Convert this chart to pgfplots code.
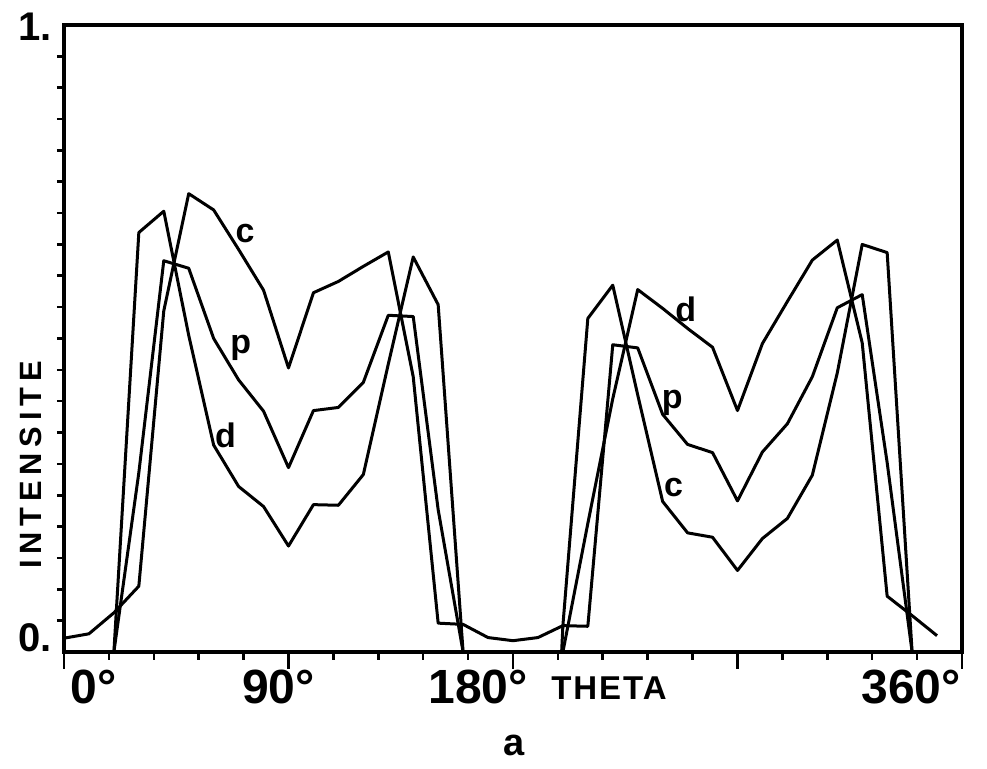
\documentclass[border=0pt]{standalone}
\usepackage{pgfplots}
\pgfplotsset{compat=1.18}
\usepackage{fontspec}
\setmainfont{Liberation Sans}

\begin{document}
\begin{tikzpicture}
  % page frame: reference is 987 x 769 px, 1 px = 0.5pt, axis origin at (64,652) px
  \path[use as bounding box] (-32pt,-58.5pt) rectangle (461.5pt,326pt);
  \begin{axis}[
      scale only axis,
      width=449pt, height=313.5pt,
      xmin=0, xmax=360, ymin=0, ymax=1,
      axis line style={line width=1.6pt},
      xtick={0,90,180,270,360},
      minor xtick={18,36,54,72,108,126,144,162,198,216,234,252,288,306,324,342},
      ytick=\empty,
      extra y ticks={0.05,0.1,0.15,0.2,0.25,0.3,0.35,0.4,0.45,0.5,0.55,0.6,0.65,0.7,0.75,0.8,0.85,0.9,0.95},
      extra y tick labels={},
      extra y tick style={major tick length=3.5pt, tick style={black, line width=1.3pt}},
      xticklabels={},
      tick align=outside,
      xtick pos=bottom, ytick pos=left,
      major tick length=8.5pt, minor tick length=4pt,
      tick style={black, line width=1.3pt},
      clip=false,
      curve/.style={black, line width=1.5pt, line join=round, mark=none},
    ]

    % c
    \addplot[curve] coordinates {
      (0,0.022) (10,0.029) (20,0.0625) (30,0.105) (40,0.544) (50,0.731)
      (60,0.705) (70,0.642) (80,0.577) (90,0.453) (100,0.573) (110,0.591)
      (120,0.615) (130,0.638) (140,0.439) (150,0.046) (160,0.044) (170,0.023)
      (180,0.018) (190,0.023) (200,0.042) (210,0.532) (220,0.585) (230,0.41)
      (240,0.240) (250,0.190) (260,0.183) (270,0.130) (280,0.181) (290,0.213)
      (300,0.282) (310,0.445) (320,0.650) (330,0.637) (340,0)
    };

    % p
    \addplot[curve] coordinates {
      (0,0) (10,0) (20,0) (30,0.286) (40,0.624) (50,0.612)
      (60,0.50) (70,0.434) (80,0.384) (90,0.294) (100,0.385) (110,0.390)
      (120,0.430) (130,0.537) (140,0.535) (150,0.227) (160,0) (170,0)
      (180,0) (190,0) (199.5,0) (200,0.042) (210,0.041) (220,0.490) (230,0.485)
      (240,0.379) (250,0.331) (260,0.318) (270,0.241) (280,0.319) (290,0.364)
      (300,0.439) (310,0.549) (320,0.570) (330,0.302) (340,0)
    };

    % d
    \addplot[curve] coordinates {
      (0,0) (10,0) (20,0) (30,0.669) (40,0.703) (50,0.505)
      (60,0.330) (70,0.264) (80,0.232) (90,0.169) (100,0.235) (110,0.234)
      (120,0.283) (130,0.459) (140,0.630) (150,0.554) (160,0) (170,0)
      (180,0) (190,0) (200,0) (210,0.205) (220,0.404) (230,0.578)
      (240,0.548) (250,0.516) (260,0.486) (270,0.385) (280,0.492) (290,0.559)
      (300,0.625) (310,0.657) (320,0.493) (330,0.089) (340,0.058) (350,0.026)
    };

    % curve names
    \begin{scope}[every node/.style={font=\fontsize{17}{17}\selectfont\bfseries, inner sep=0pt}]
      \node at (axis cs:72.6,0.668) {c};
      \node at (axis cs:70.9,0.485) {p};
      \node at (axis cs:64.7,0.346) {d};
      \node at (axis cs:249.3,0.546) {d};
      \node at (axis cs:243.8,0.397) {p};
      \node at (axis cs:244.4,0.263) {c};
    \end{scope}

    % y values
    \node[anchor=east, inner sep=0pt, xshift=-6pt, yshift=-1pt,
      font=\fontsize{20}{20}\selectfont\bfseries] at (rel axis cs:0,1) {1.};
    \node[anchor=east, inner sep=0pt, xshift=-6pt, yshift=7pt,
      font=\fontsize{20}{20}\selectfont\bfseries] at (rel axis cs:0,0) {0.};

    % theta values
    \begin{scope}[every node/.style={font=\fontsize{24}{24}\selectfont\bfseries, inner sep=0pt, yshift=-9pt}]
      \node[anchor=north west, xshift=3pt] at (axis cs:0,0) {0°};
      \node[anchor=north] at (axis cs:86,0) {90°};
      \node[anchor=north] at (axis cs:166,0) {180°};
      \node[anchor=north] at (axis cs:339.6,0) {360°};
    \end{scope}

    \node[font=\fontsize{16.5}{16.5}\selectfont\bfseries\addfontfeatures{LetterSpace=6}, inner sep=0pt,
      yshift=-18pt] at (axis cs:218.5,0) {THETA};
    \node[font=\fontsize{15.4}{15.4}\selectfont\bfseries\addfontfeatures{LetterSpace=19}, inner sep=0pt,
      xshift=-16.5pt, rotate=90] at (rel axis cs:0,0.298) {INTENSITE};
    \node[font=\fontsize{19}{19}\selectfont\bfseries, inner sep=0pt, yshift=-46.5pt]
      at (axis cs:180.4,0) {a};

  \end{axis}
\end{tikzpicture}
\end{document}
